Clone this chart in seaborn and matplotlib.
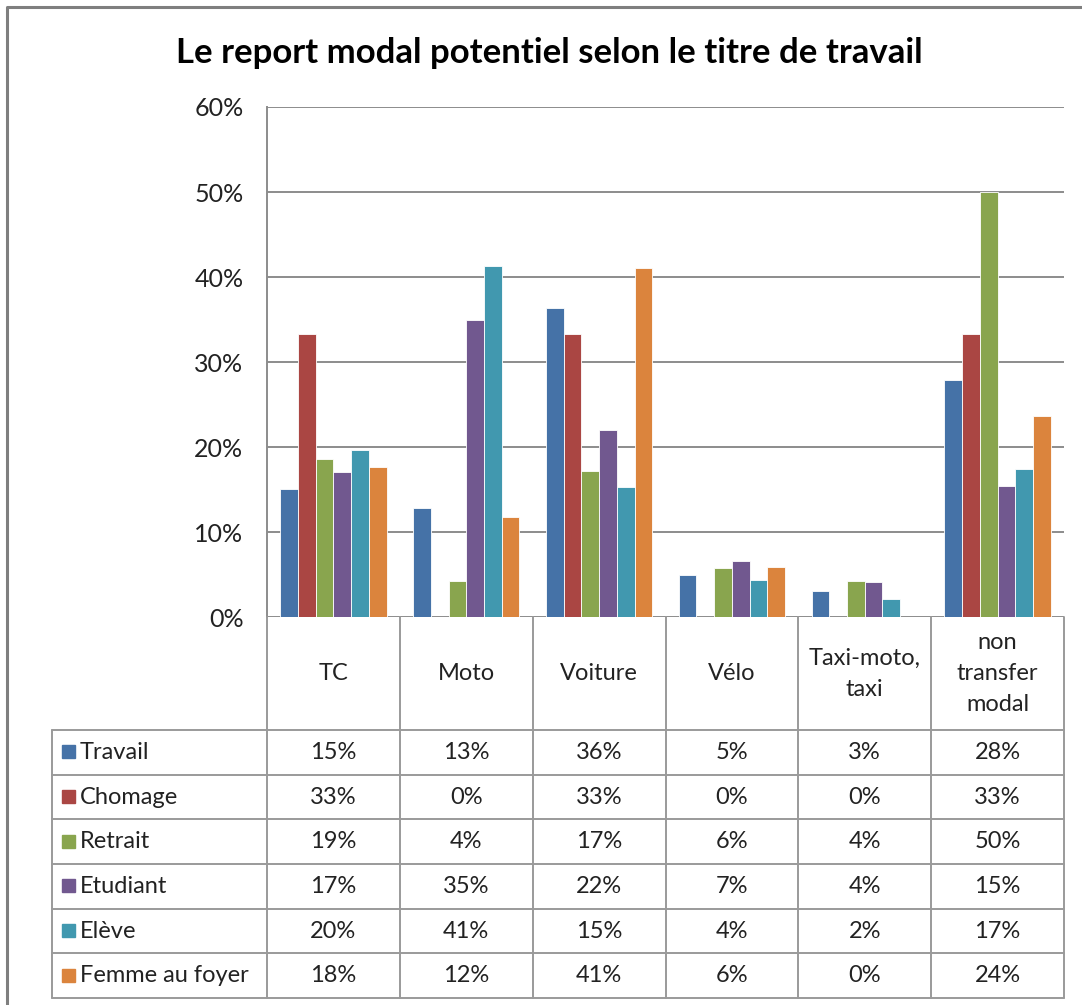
import numpy as np
import pandas as pd
import matplotlib
matplotlib.use("Agg")
import matplotlib.pyplot as plt
import seaborn as sns

# ---- data ----
modes = ["TC", "Moto", "Voiture", "Vélo", "Taxi-moto, taxi", "non transfer modal"]
mode_labels = ["TC", "Moto", "Voiture", "Vélo", "Taxi-moto,\ntaxi", "non\ntransfer\nmodal"]
groups = ["Travail", "Chomage", "Retrait", "Etudiant", "Elève", "Femme au foyer"]

travail = [15.1, 12.8, 36.3, 4.9, 3.1, 27.9]
chomage = [33.3, 0.0, 33.3, 0.0, 0.0, 33.3]
retrait = [18.6, 4.2, 17.2, 5.8, 4.2, 50.0]
etudiant = [17.1, 34.9, 22.0, 6.6, 4.1, 15.4]
eleve = [19.6, 41.3, 15.3, 4.4, 2.1, 17.4]
femme = [17.6, 11.8, 41.1, 5.9, 0.0, 23.6]

colors = ["#4572A7", "#AA4643", "#89A54E", "#71588F", "#4198AF", "#DB843D"]
yticks = [0, 10, 20, 30, 40, 50, 60]

series = [travail, chomage, retrait, etudiant, eleve, femme]
df = pd.DataFrame(
    [(m, g, v) for g, vals in zip(groups, series) for m, v in zip(modes, vals)],
    columns=["mode", "groupe", "value"],
)

sns.set_style("white")
plt.rcParams["font.family"] = ["Lato", "DejaVu Sans"]

W, H = 1082, 1005
fig = plt.figure(figsize=(W / 100, H / 100), dpi=100)

# plot area in pixel coords
x0, x1, ytop, ybot = 267, 1064, 107, 617
ax = fig.add_axes([x0 / W, 1 - ybot / H, (x1 - x0) / W, (ybot - ytop) / H])
sns.barplot(data=df, x="mode", y="value", hue="groupe", hue_order=groups,
            order=modes, palette=colors, saturation=1, width=0.8, ax=ax,
            edgecolor="white", linewidth=0.6, legend=False, zorder=3)
ax.set_ylim(0, 60)
ax.set_xlim(-0.5, len(modes) - 0.5)
ax.set_yticks(yticks)
ax.set_yticklabels([f"{t}%" for t in yticks], fontsize=18, color="#222222")
ax.tick_params(axis="y", length=0, pad=17)
ax.set_xticks([])
ax.set_xlabel("")
ax.set_ylabel("")
for t in yticks:
    ax.axhline(t, color="#8c8c8c", lw=1.4, zorder=1)
for s in ["top", "right", "bottom"]:
    ax.spines[s].set_visible(False)
ax.spines["left"].set_color("#8c8c8c")
ax.spines["left"].set_linewidth(1.4)

# overlay in pixel coordinates for title, frame and data table
ov = fig.add_axes([0, 0, 1, 1], zorder=5)
ov.set_xlim(0, W)
ov.set_ylim(H, 0)
ov.axis("off")
ov.patch.set_alpha(0)

# outer frame
ov.plot([7, 7, W], [H, 7, 7], color="#7f7f7f", lw=2.2)

ov.text(549, 53, "Le report modal potentiel selon le titre de travail",
        ha="center", va="center", fontsize=25, fontweight="bold", color="black")

# table geometry
col_edges = np.linspace(x0, x1, len(modes) + 1)
hdr_bot = 730
row_edges = np.linspace(hdr_bot, 998, len(groups) + 1)
lab_x0 = 52
gc = "#9a9a9a"

for xe in col_edges:
    ov.plot([xe, xe], [ybot, row_edges[-1]], color=gc, lw=1.4)
for ye in row_edges:
    ov.plot([lab_x0, x1], [ye, ye], color=gc, lw=1.4)
ov.plot([lab_x0, lab_x0], [row_edges[0], row_edges[-1]], color=gc, lw=1.4)

for i, lab in enumerate(mode_labels):
    cx = (col_edges[i] + col_edges[i + 1]) / 2
    ov.text(cx, (ybot + hdr_bot) / 2, lab, ha="center", va="center",
            fontsize=17, color="#222222", linespacing=1.6)

for r, (g, vals, c) in enumerate(zip(groups, series, colors)):
    cy = (row_edges[r] + row_edges[r + 1]) / 2
    ov.add_patch(plt.Rectangle((62, cy - 7), 13, 13, color=c))
    ov.text(80, cy, g, ha="left", va="center", fontsize=17, color="#222222")
    for i, v in enumerate(vals):
        cx = (col_edges[i] + col_edges[i + 1]) / 2
        ov.text(cx, cy, f"{round(v)}%", ha="center", va="center",
                fontsize=17, color="#222222")

fig.savefig("out.png", dpi=100)
